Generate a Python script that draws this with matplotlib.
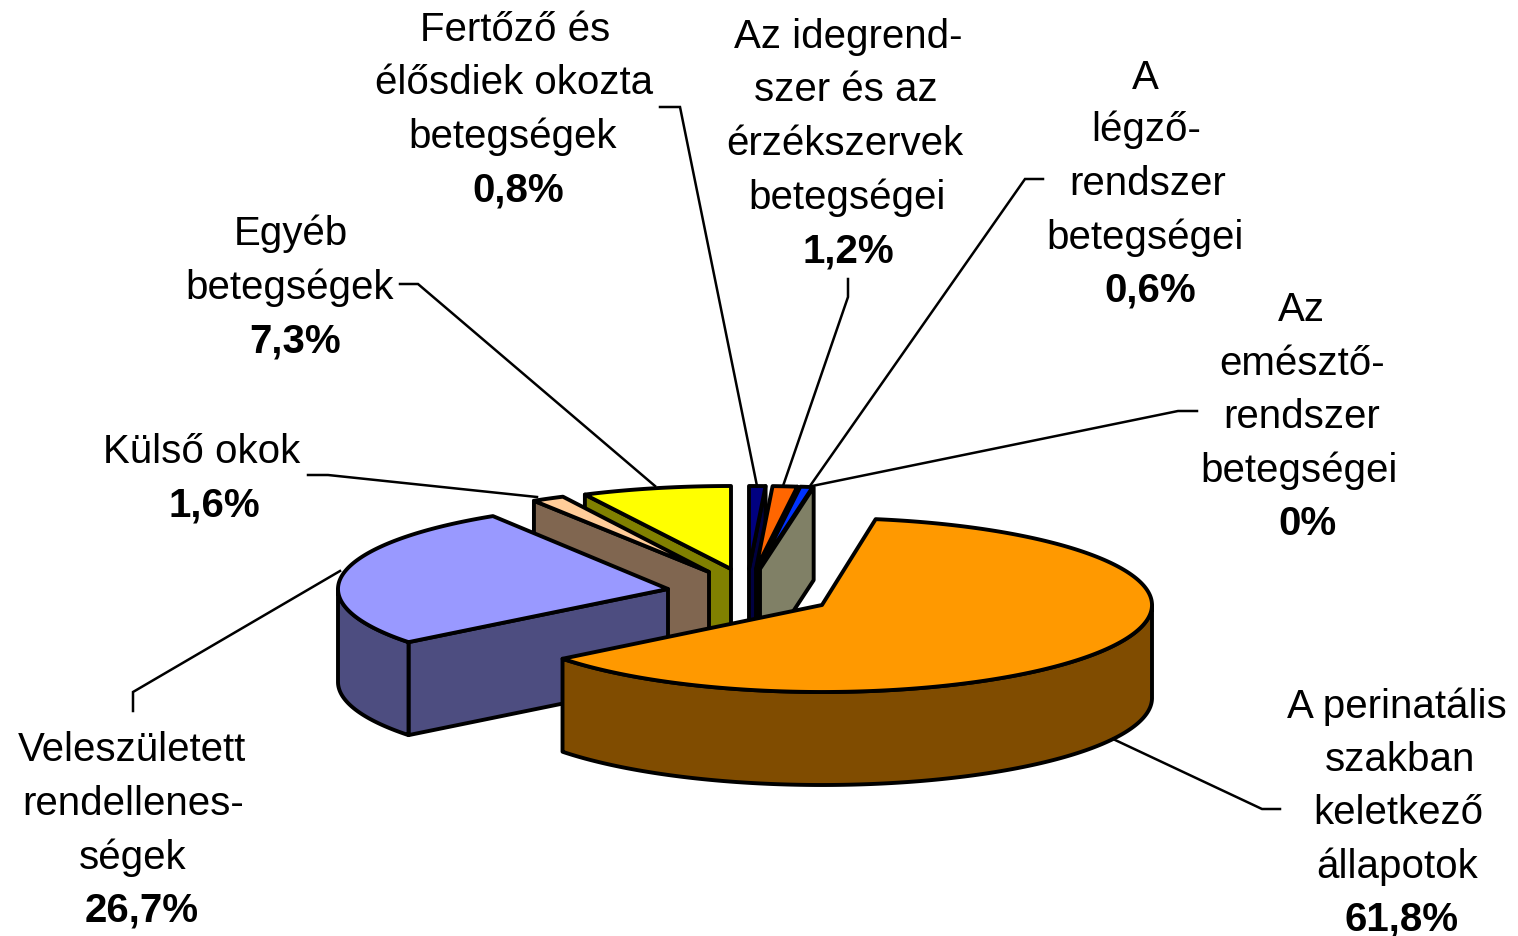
"""3D exploded pie chart: causes of infant deaths (Hungarian labels)."""
import numpy as np
import matplotlib
matplotlib.use("Agg")
import matplotlib.pyplot as plt
from matplotlib.patches import Polygon

plt.rcParams["font.family"] = ["Liberation Sans", "DejaVu Sans"]

# data, clockwise from 12 o'clock
categories = ["Fertőző", "Idegrendszer", "Légző", "Emésztő",
              "Perinatális", "Veleszületett", "Külső", "Egyéb"]
values = [0.8, 1.2, 0.6, 0.0, 61.8, 26.7, 1.6, 7.3]
top_colors = ["#000080", "#FF6600", "#0033FF", "#FFFFCC",
              "#FF9900", "#9999FF", "#FFCC99", "#FFFF00"]
side_colors = ["#000040", "#803300", "#001A80", "#808066",
               "#804C00", "#4D4D80", "#806650", "#808000"]

# slice tip in pixels (x, y, vertical radius)
tips = {"Fertőző": (749, 570, 83), "Idegrendszer": (756, 570, 83),
        "Légző": (759, 570, 83), "Emésztő": (760, 570, 83),
        "Perinatális": (822, 606, 87), "Veleszületett": (668, 590, 86),
        "Külső": (709, 573, 84), "Egyéb": (731, 570, 83)}
RX = 330
DEPTH = 93
LW = 2.8
draw_order = ["Fertőző", "Idegrendszer", "Légző", "Emésztő",
              "Egyéb", "Külső", "Veleszületett", "Perinatális"]

# leader lines
leaders = [
    ([660, 680, 757], [108, 108, 487]),
    ([848, 848, 783], [280, 298, 487]),
    ([1043, 1025, 810], [180, 180, 487]),
    ([1197, 1178, 812], [412, 412, 487]),
    ([400, 418, 655], [285, 285, 487]),
    ([308, 328, 537], [476, 476, 498]),
    ([133, 133, 340], [712, 693, 572]),
    ([1280, 1262, 1113], [810, 810, 740]),
]

# label rows: text, centre x, centre y, bold
labels = [
    ("Fertőző és", 515, 28, False), ("élősdiek okozta", 514, 81, False),
    ("betegségek", 513, 135, False), ("0,8%", 518, 189, True),
    ("Az idegrend-", 848, 35, False), ("szer és az", 846, 88, False),
    ("érzékszervek", 845, 142, False), ("betegségei", 847, 196, False),
    ("1,2%", 848, 250, True),
    ("A", 1145, 76, False), ("légző-", 1146, 128, False),
    ("rendszer", 1148, 182, False), ("betegségei", 1145, 236, False),
    ("0,6%", 1150, 289, True),
    ("Az", 1301, 308, False), ("emésztő-", 1302, 362, False),
    ("rendszer", 1302, 415, False), ("betegségei", 1299, 469, False),
    ("0%", 1308, 522, True),
    ("Egyéb", 291, 232, False), ("betegségek", 290, 286, False),
    ("7,3%", 295, 340, True),
    ("Külső okok", 202, 450, False), ("1,6%", 214, 504, True),
    ("Veleszületett", 132, 748, False), ("rendellenes-", 133, 802, False),
    ("ségek", 133, 856, False), ("26,7%", 142, 909, True),
    ("A perinatális", 1397, 705, False), ("szakban", 1400, 758, False),
    ("keletkező", 1398, 811, False), ("állapotok", 1397, 865, False),
    ("61,8%", 1402, 918, True),
]

fig = plt.figure(figsize=(15.18, 9.37), dpi=100)
ax = fig.add_axes([0, 0, 1, 1])
ax.set_xlim(0, 1518); ax.set_ylim(937, 0); ax.axis("off")


def arc(cx, cy, ry, t0, t1):
    ts = np.radians(np.linspace(t0, t1, max(2, int(abs(t1 - t0)) * 2 + 2)))
    return np.column_stack([cx + RX * np.sin(ts), cy - ry * np.cos(ts)])


def shape(pts, color):
    ax.add_patch(Polygon(pts, closed=True, facecolor=color, edgecolor="black",
                         linewidth=LW, joinstyle="round"))


def cut_face(cx, cy, ry, t, color):
    outer = arc(cx, cy, ry, t, t)[0]
    shape([(cx, cy), outer, outer + (0, DEPTH), (cx, cy + DEPTH)], color)


edges = np.concatenate([[0], np.cumsum(values)]) / sum(values) * 360
for name in draw_order:
    i = categories.index(name)
    cx, cy, ry = tips[name]
    t0, t1 = edges[i], edges[i + 1]
    if np.sin(np.radians(t0)) < 0:
        cut_face(cx, cy, ry, t0, side_colors[i])
    if np.sin(np.radians(t1)) > 0:
        cut_face(cx, cy, ry, t1, side_colors[i])
    w0, w1 = max(t0, 90), min(t1, 270)
    if w1 > w0:
        rim = arc(cx, cy, ry, w0, w1)
        shape(np.vstack([rim, rim[::-1] + (0, DEPTH)]), side_colors[i])
    if t1 > t0:
        shape(np.vstack([[(cx, cy)], arc(cx, cy, ry, t0, t1)]), top_colors[i])

for xs, ys in leaders:
    ax.plot(xs, ys, color="black", linewidth=1.8, solid_joinstyle="miter", zorder=1)

for txt, x, y, bold in labels:
    ax.text(x, y + 13, txt, ha="center", va="baseline", fontsize=29,
            fontweight="bold" if bold else "normal", color="black")

fig.savefig("out.png", dpi=100)
